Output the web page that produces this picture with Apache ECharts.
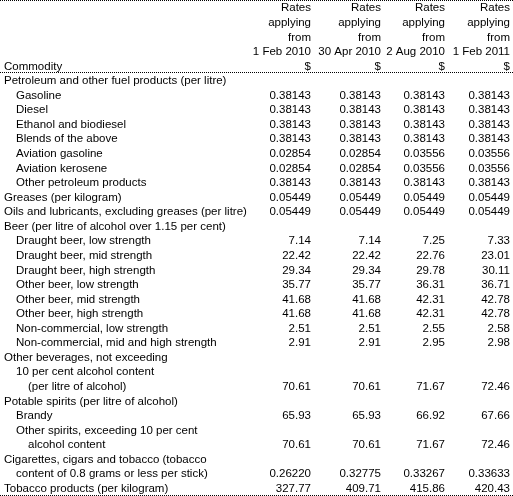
<!DOCTYPE html>
<html><head><meta charset="utf-8">
<script src="https://cdn.jsdelivr.net/npm/echarts@6/dist/echarts.min.js"></script>
<style>html,body{margin:0;padding:0;background:#fff}#c{width:513px;height:496px}</style>
</head><body><div id="c"></div>
<script>
const headerLines = [
  ['', 'Rates','Rates','Rates','Rates'],
  ['', 'applying','applying','applying','applying'],
  ['', 'from','from','from','from'],
  ['', '1 Feb 2010','30 Apr 2010','2 Aug 2010','1 Feb 2011'],
  ['Commodity','$','$','$','$']
];
const labels = [
 'Petroleum and other fuel products (per litre)','Gasoline','Diesel','Ethanol and biodiesel','Blends of the above',
 'Aviation gasoline','Aviation kerosene','Other petroleum products','Greases (per kilogram)',
 'Oils and lubricants, excluding greases (per litre)','Beer (per litre of alcohol over 1.15 per cent)',
 'Draught beer, low strength','Draught beer, mid strength','Draught beer, high strength',
 'Other beer, low strength','Other beer, mid strength','Other beer, high strength',
 'Non-commercial, low strength','Non-commercial, mid and high strength',
 'Other beverages, not exceeding','10 per cent alcohol content','(per litre of alcohol)',
 'Potable spirits (per litre of alcohol)','Brandy','Other spirits, exceeding 10 per cent','alcohol content',
 'Cigarettes, cigars and tobacco (tobacco','content of 0.8 grams or less per stick)','Tobacco products (per kilogram)'
];
const indent = [0,1,1,1,1,1,1,1,0,0,0,1,1,1,1,1,1,1,1,0,1,2,0,1,1,2,0,1,0];
const rate1Feb2010 = ['','0.38143','0.38143','0.38143','0.38143','0.02854','0.02854','0.38143','0.05449','0.05449','','7.14','22.42','29.34','35.77','41.68','41.68','2.51','2.91','','','70.61','','65.93','','70.61','','0.26220','327.77'];
const rate30Apr2010 = ['','0.38143','0.38143','0.38143','0.38143','0.02854','0.02854','0.38143','0.05449','0.05449','','7.14','22.42','29.34','35.77','41.68','41.68','2.51','2.91','','','70.61','','65.93','','70.61','','0.32775','409.71'];
const rate2Aug2010 = ['','0.38143','0.38143','0.38143','0.38143','0.03556','0.03556','0.38143','0.05449','0.05449','','7.25','22.76','29.78','36.31','42.31','42.31','2.55','2.95','','','71.67','','66.92','','71.67','','0.33267','415.86'];
const rate1Feb2011 = ['','0.38143','0.38143','0.38143','0.38143','0.03556','0.03556','0.38143','0.05449','0.05449','','7.33','23.01','30.11','36.71','42.78','42.78','2.58','2.98','','','72.46','','67.66','','72.46','','0.33633','420.43'];

const rows = headerLines.map(h => ({label:h[0], ind:0, vals:h.slice(1)}))
  .concat(labels.map((l,i)=>({label:l, ind:indent[i], vals:[rate1Feb2010[i],rate30Apr2010[i],rate2Aug2010[i],rate1Feb2011[i]]})));
const colRight = [311, 381, 445, 510];
const indentPx = [4, 16, 28];
const FONT = '11.5px "Liberation Sans", Arial, sans-serif';

const chart = echarts.init(document.getElementById('c'), null, {renderer:'canvas'});
chart.setOption({
  animation:false,
  grid:{left:0,right:0,top:1,bottom:0},
  xAxis:{type:'value',min:0,max:513,show:false},
  yAxis:{type:'category',inverse:true,data:rows.map((r,i)=>i),show:false},
  series:[{
    type:'custom',
    data: rows.map((r,i)=>[0,i]),
    renderItem:function(params, api){
      const i = api.value(1);
      const r = rows[i];
      const p = api.coord([0,i]);
      const h = api.size([0,1])[1];
      const ch = [];
      ch.push({type:'text',style:{text:r.label,x:api.coord([indentPx[r.ind],i])[0],y:p[1],font:FONT,fill:'#000',textAlign:'left',textVerticalAlign:'middle'}});
      r.vals.forEach((v,k)=>{
        if(v) ch.push({type:'text',style:{text:v,x:api.coord([colRight[k],i])[0],y:p[1],font:FONT,fill:'#000',textAlign:'right',textVerticalAlign:'middle'}});
      });
      const dotted = {stroke:'#000',lineWidth:1,lineDash:[1,1]};
      const x0 = api.coord([0,i])[0], x1 = api.coord([513,i])[0];
      if(i===0){const y=Math.round(p[1]-h/2)+0.5-1; ch.push({type:'line',shape:{x1:x0,y1:y,x2:x1,y2:y},style:dotted});}
      if(i===4||i===rows.length-1){const y=Math.round(p[1]+h/2)-0.5-(i===4?1:0); ch.push({type:'line',shape:{x1:x0,y1:y,x2:x1,y2:y},style:dotted});}
      return {type:'group',children:ch};
    }
  }]
});
</script></body></html>
